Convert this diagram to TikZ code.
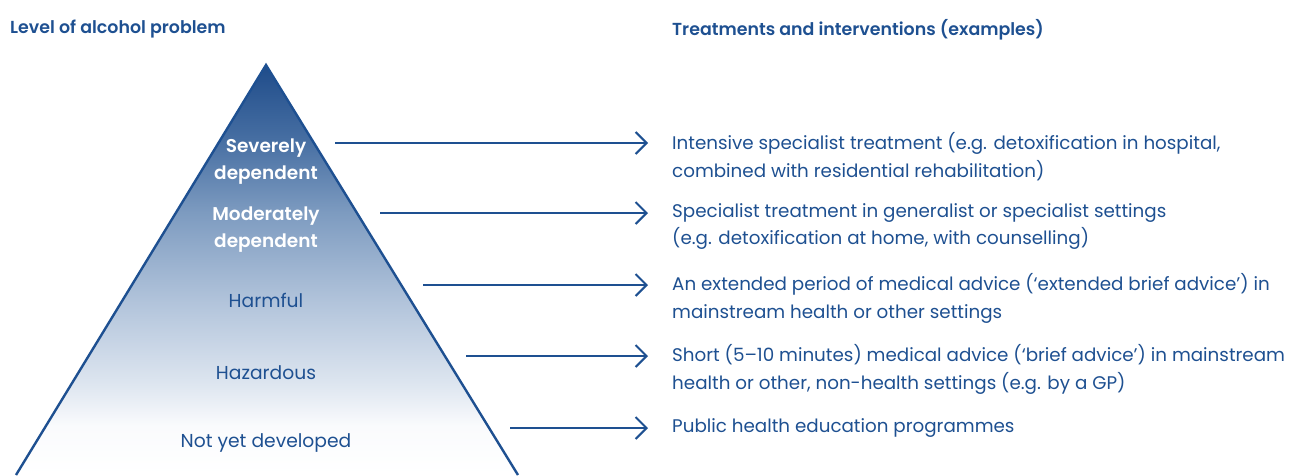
\documentclass[tikz,border=0pt]{standalone}
\usepackage{fontspec}
\setmainfont{Poppins}[BoldFont=* SemiBold]
\newfontfamily\headfont{Poppins SemiBold}
\usetikzlibrary{arrows.meta}

\definecolor{nhsblue}{RGB}{30,80,145}
\definecolor{pyrtop}{RGB}{31,76,138}
\definecolor{pyrA}{RGB}{70,110,162}
\definecolor{pyrB}{RGB}{125,155,192}
\definecolor{pyrC}{RGB}{178,196,219}
\definecolor{pyrD}{RGB}{222,230,240}
\definecolor{pyrE}{RGB}{250,251,253}

% vertical fill of the pyramid: 25bp = base, 75bp = apex
\pgfdeclareverticalshading{pyrfill}{100bp}{%
  color(0bp)=(white); color(25bp)=(white); color(31bp)=(pyrE);
  color(36bp)=(pyrD); color(46bp)=(pyrC); color(57bp)=(pyrB);
  color(66bp)=(pyrA); color(75bp)=(pyrtop); color(100bp)=(pyrtop)}

\tikzset{
  heading/.style={font=\headfont\fontsize{17.4}{22}\selectfont, text=nhsblue, inner sep=0pt},
  lvlwhite/.style={font=\bfseries\fontsize{18.5}{27}\selectfont, text=white, align=center, inner sep=0pt},
  lvlblue/.style={font=\fontsize{18.7}{27}\selectfont, text=nhsblue, align=center, inner sep=0pt},
  treat/.style={font=\fontsize{18.3}{27.5}\selectfont, text=nhsblue, align=left, anchor=west, inner sep=0pt},
  link/.style={draw=nhsblue, line width=2pt, -{Straight Barb[length=11pt,width=22pt,line width=2pt]}},
}

\begin{document}
\begin{tikzpicture}[x=1pt,y=-1pt]
\useasboundingbox (0,0) rectangle (1291,475);

% pyramid
\coordinate (apex) at (266,65);
\coordinate (bl) at (16,475);
\coordinate (br) at (518,475);
\shade[shading=pyrfill] (apex) -- (br) -- (bl) -- cycle;
\draw[nhsblue, line width=2.4pt, line join=miter] (bl) -- (apex) -- (br);

% headings
\node[heading, anchor=west] (h1) at (10,29.5) {Level of alcohol problem};
\node[heading, anchor=west] (h2) at (672,29.5) {Treatments and interventions (examples)};

% levels
\node[lvlwhite] (l1) at (266,161.5) {Severely\\dependent};
\node[lvlwhite] (l2) at (266,230) {Moderately\\dependent};
\node[lvlblue] (l3) at (266,300.5) {Harmful};
\node[lvlblue] (l4) at (266,372.5) {Hazardous};
\node[lvlblue] (l5) at (266,443) {Not yet developed};

% arrow tails
\coordinate (s1) at (335,143);
\coordinate (s2) at (380,213);
\coordinate (s3) at (423,285);
\coordinate (s4) at (466,356);
\coordinate (s5) at (510,428);

% treatments
\node[treat] (t1) at (672,156.5) {Intensive specialist treatment (e.g. detoxification in hospital,\\combined with residential rehabilitation)};
\node[treat] (t2) at (672,226.5) {Specialist treatment in generalist or specialist settings\\(e.g. detoxification at home, with counselling)};
\node[treat] (t3) at (672,298.5) {An extended period of medical advice (‘extended brief advice’) in\\mainstream health or other settings};
\node[treat] (t4) at (672,369.5) {Short (5–10 minutes) medical advice (‘brief advice’) in mainstream\\health or other, non-health settings (e.g. by a GP)};
\node[treat] (t5) at (672,428) {Public health education programmes};

\foreach \i in {1,...,5} {
  \draw[link] (s\i) -- ([xshift=-24pt]s\i -| t\i.west);
}
\end{tikzpicture}
\end{document}
